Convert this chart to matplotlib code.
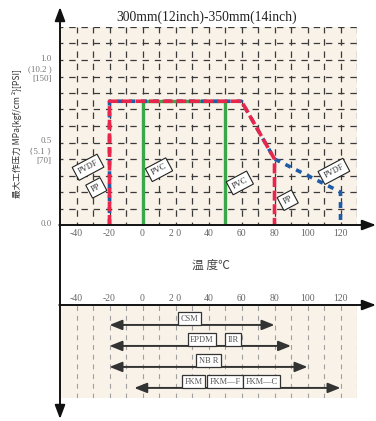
import matplotlib
matplotlib.use("Agg")
import matplotlib.pyplot as plt
import numpy as np

plt.rcParams['lines.scale_dashes'] = False

# ---------------- data ----------------
title = "300mm(12inch)-350mm(14inch)"
xtick_vals = [-40, -20, 0, 20, 40, 60, 80, 100, 120]
xtick_labels = ['-40', '-20', '0', '2 0', '40', '60', '80', '100', '120']

pp_x = [-20, -20, 60, 80, 80]
pp_y = [0.0, 0.75, 0.75, 0.40, 0.0]
pvdf_x = [-20, -20, 60, 80, 120, 120]
pvdf_y = [0.0, 0.75, 0.75, 0.40, 0.20, 0.0]
pvc_x = [0, 0, 50, 50]
pvc_y = [0.0, 0.75, 0.75, 0.0]

# rotated material labels: (text, x, y)
mat_labels = [("PVDF", -33, 0.35), ("PP", -28, 0.225), ("PVC", 10, 0.335),
              ("PVC", 59, 0.255), ("PP", 88, 0.15), ("PVDF", 116, 0.325)]

ylab_main = [1.0, 0.5, 0.0]
ylab_text = [["1.0", "(10.2 )", "[150]"], ["0.5", "{5.1 }", "[70]"], ["0.0"]]

# rubber seal temperature ranges
seal_rows = [0, 1, 2, 3]
seal_lo = [-20, -20, -20, -5]
seal_hi = [80, 90, 100, 120]
seal_names = [["CSM"], ["EPDM", "IIR"], ["NB R"], ["FKM", "FKM—F", "FKM—C"]]
seal_name_x = [[28.5], [36, 55], [40], [31, 50, 72]]

# ---------------- figure ----------------
W, H = 376, 421
fig = plt.figure(figsize=(W / 100, H / 100), dpi=100)
bg = '#f8f2e8'
serif = 'Liberation Serif'
cjk = ['Noto Sans CJK SC', 'DejaVu Sans']

def rect(x0, y0, x1, y1):
    return [x0 / W, 1 - y1 / H, (x1 - x0) / W, (y1 - y0) / H]

# upper chart
ax = fig.add_axes(rect(60, 27, 357, 225))
ax.set_xlim(-50, 130)
ax.set_ylim(0, 1.2)
ax.set_facecolor(bg)
for s in ax.spines.values():
    s.set_visible(False)
for gx in np.arange(-40, 131, 10):
    ax.axvline(gx, color='#3a3a3a', lw=0.9, linestyle=(2.5, (4.6, 4.2)), zorder=1)
for gy in np.arange(0.1, 1.21, 0.1):
    ax.axhline(gy, color='#3a3a3a', lw=0.9, linestyle=(2.5, (4.6, 4.2)), zorder=1)

ax.set_xticks(xtick_vals)
ax.set_xticklabels(xtick_labels, fontfamily=serif, fontsize=7, color='#666')
ax.tick_params(axis='x', length=0, pad=3)
ax.set_yticks([])

ax.plot(pvc_x, pvc_y, color='#3aa84a', lw=2.4, solid_capstyle='butt', zorder=3)
ax.plot(pvdf_x, pvdf_y, color='#1f5ca8', lw=2.6, linestyle=(0, (4.3, 4.3)), zorder=4,
        clip_on=False)
ax.plot(pp_x, pp_y, color='#e8264c', lw=2.6, linestyle=(0, (7.2, 2.6)), zorder=5,
        clip_on=False)

for t, x, y in mat_labels:
    ax.text(x, y, t, rotation=28, ha='center', va='center', fontsize=6,
            fontfamily=serif, color='#333', zorder=6,
            bbox=dict(boxstyle='square,pad=0.4', fc='white', ec='#222', lw=0.8))

for yv, texts in zip(ylab_main, ylab_text):
    for i, t in enumerate(texts):
        ax.annotate(t, xy=(0, yv), xycoords=('axes fraction', 'data'),
                    xytext=(-6, 1 - 7.3 * i), textcoords='offset points',
                    ha='right', va='center', fontsize=6.5, fontfamily=serif,
                    color='#777', annotation_clip=False)

# lower chart
ax2 = fig.add_axes(rect(60, 305, 357, 398))
ax2.set_xlim(-50, 130)
ax2.set_ylim(3.48, -0.95)
ax2.set_facecolor(bg)
for s in ax2.spines.values():
    s.set_visible(False)
for gx in np.arange(-40, 131, 10):
    ax2.axvline(gx, color='#a0a0a0', lw=0.8, linestyle=(0, (3.5, 3.5)), zorder=1)
ax2.xaxis.tick_top()
ax2.set_xticks(xtick_vals)
ax2.set_xticklabels(xtick_labels, fontfamily=serif, fontsize=7, color='#666')
ax2.tick_params(axis='x', length=0, pad=1.5)
ax2.set_yticks([])

for r, lo, hi, names, nx in zip(seal_rows, seal_lo, seal_hi, seal_names, seal_name_x):
    ax2.annotate('', xy=(hi, r), xytext=(lo, r),
                 arrowprops=dict(arrowstyle='<|-|>,head_length=0.75,head_width=0.3',
                                 color='#333', lw=1.4, mutation_scale=10,
                                 shrinkA=0, shrinkB=0), zorder=3)
    for nm, x in zip(names, nx):
        ax2.text(x, r - 0.29, nm, ha='center', va='center', fontsize=6,
                 fontfamily=serif, color='#555', zorder=5,
                 bbox=dict(boxstyle='square,pad=0.3', fc='white', ec='#333', lw=0.9))

# overlay for axis arrows and labels
ov = fig.add_axes([0, 0, 1, 1])
ov.set_xlim(0, W)
ov.set_ylim(H, 0)
ov.axis('off')
ov.patch.set_visible(False)
arrow = dict(arrowstyle='-|>,head_length=0.75,head_width=0.28', color='#111',
             lw=1.4, mutation_scale=11, shrinkA=0, shrinkB=0)
ov.annotate('', xy=(60, 7), xytext=(60, 226), arrowprops=arrow)
ov.annotate('', xy=(60, 419), xytext=(60, 224), arrowprops=arrow)
ov.annotate('', xy=(376, 225), xytext=(59.3, 225), arrowprops=arrow)
ov.annotate('', xy=(376, 305), xytext=(59.3, 305), arrowprops=arrow)

fig.text(207 / W, 1 - 17 / H, title, ha='center', va='center', fontsize=9.8,
         fontfamily=serif, color='#222')
fig.text(211 / W, 1 - 265 / H, "温 度℃", ha='center', va='center', fontsize=8.5,
         fontfamily=cjk, color='#444')
fig.text(17 / W, 1 - 134 / H, "最大工作压力 MPa{kgf/cm ²}[PSI]", rotation=90,
         ha='center', va='center', fontsize=6.2, fontfamily=cjk, color='#333')

fig.savefig('out.png', dpi=100)
